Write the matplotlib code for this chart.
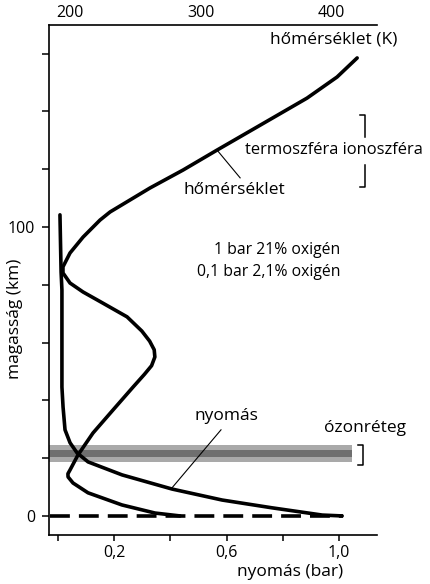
import matplotlib.pyplot as plt

plt.rcParams['font.family'] = ['Open Sans', 'DejaVu Sans']
plt.rcParams['font.size'] = 12.5

# ---- data ----
# temperature profile (K) vs. altitude (km)
temp_k = [284.3, 265.1, 239.8, 213.8, 202.3, 198.5, 198.4, 200, 206.1,
          217.6, 233, 248.3, 257, 262.5, 265, 264.5, 261, 255, 243.7,
          223, 210, 200, 194.6, 194.6, 200, 210, 223, 230.7, 261.3, 286.6,
          312.6, 343.3, 381.6, 404.6, 420]
temp_h = [0, 1.0, 3.8, 8.0, 11.4, 13.5, 14.6, 15.9, 21.1,
          28.7, 36.7, 44.6, 49.0, 52.0, 55.0, 57.5, 60.5, 64.0, 68.9,
          74.2, 77.5, 80.6, 84.1, 86.2, 91.0, 96.5, 102.4, 105.2, 113.5, 119.7,
          126.6, 134.6, 144.6, 151.9, 158.5]

# pressure profile (bar) vs. altitude (km)
pres_bar = [1.011, 0.940, 0.762, 0.584, 0.406, 0.228, 0.107, 0.068,
            0.043, 0.025, 0.018, 0.014, 0.014, 0.014, 0.011, 0.007]
pres_h = [0, 0.3, 2.8, 5.5, 9.3, 14.2, 18.7, 21.8,
          25.3, 29.8, 37.7, 44.6, 64.4, 78.2, 84.4, 104.2]

# ozone layer (km): outer band and darker core
ozone_outer = [18.7, 24.6]
ozone_core = [20.4, 22.8]
ozone_extent = [-0.032, 1.046]

# ground level (dashed)
ground_extent = [-0.028, 1.014]

pres_ticks = [0, 0.2, 0.4, 0.6, 0.8, 1.0]
pres_ticklabels = ['', '0,2', '', '0,6', '', '1,0']
h_ticks = [0, 20, 40, 60, 80, 100, 120, 140, 160]
h_ticklabels = ['0', '', '', '', '', '100', '', '', '']
temp_ticks = [200, 300, 400]

# ---- figure ----
fig = plt.figure(figsize=(4.3, 5.84), dpi=100)
ax = fig.add_axes([49 / 430, 1 - 535 / 584, 328 / 430, 510 / 584])
ax.set_xlim(-0.032, 1.135)
ax.set_ylim(-6.6, 169.9)

for s in ['top', 'right']:
    ax.spines[s].set_visible(False)
for s in ['left', 'bottom']:
    ax.spines[s].set_linewidth(1.2)

ax.set_xticks(pres_ticks)
ax.set_xticklabels(pres_ticklabels)
ax.set_yticks(h_ticks)
ax.set_yticklabels(h_ticklabels)
ax.tick_params(axis='x', length=4, width=1.1, pad=3, labelsize=11.5)
ax.tick_params(axis='y', length=5, width=1.1, pad=5, labelsize=11.5)

# ozone band
ax.fill_between(ozone_extent, ozone_outer[0], ozone_outer[1],
                color='#a9a9a9', lw=0, zorder=1)
ax.fill_between(ozone_extent, ozone_core[0], ozone_core[1],
                color='#6f6f6f', lw=0, zorder=1)

# ground line
ax.plot(ground_extent, [0, 0], color='black', lw=2.6,
        dashes=(5.5, 2.5), zorder=3)

# pressure curve
ax.plot(pres_bar, pres_h, color='black', lw=2.6,
        solid_joinstyle='round', solid_capstyle='round', zorder=4)

# temperature on the top axis
axT = ax.twiny()
axT.set_xlim(183.9, 435.2)
for s in ['bottom', 'left', 'right']:
    axT.spines[s].set_visible(False)
axT.spines['top'].set_linewidth(1.2)
axT.set_xticks(temp_ticks)
axT.tick_params(axis='x', length=0, pad=3, labelsize=11.5)
axT.plot(temp_k, temp_h, color='black', lw=2.6,
         solid_joinstyle='round', solid_capstyle='round', zorder=4)

# annotations (in pressure / altitude coordinates)
ax.text(0.598, 34.6, 'nyomás', ha='center', va='center')
ax.plot([0.580, 0.402], [29.8, 9.3], color='black', lw=0.8)

ax.text(0.626, 112.8, 'hőmérséklet', ha='center', va='center')
ax.plot([0.566, 0.648], [126.6, 117.0], color='black', lw=0.8)

ax.text(0.665, 126.6, 'termoszféra ionoszféra', ha='left', va='center',
        fontsize=11.9, clip_on=False)
ax.plot([1.075, 1.093, 1.093], [138.8, 138.8, 131.1], color='black',
        lw=1.1, clip_on=False)
ax.plot([1.093, 1.093, 1.075], [121.5, 113.8, 113.8], color='black',
        lw=1.1, clip_on=False)

ax.text(1.004, 92.0, '1 bar 21% oxigén', ha='right', va='center',
        fontsize=11.3)
ax.text(1.004, 84.4, '0,1 bar 2,1% oxigén', ha='right', va='center',
        fontsize=11.3)

ax.text(1.093, 30.4, 'ózonréteg', ha='center', va='center', clip_on=False)
ax.plot([1.068, 1.085, 1.085, 1.068], [24.6, 24.6, 17.6, 17.6],
        color='black', lw=1.1, clip_on=False)

# axis titles
fig.text(15 / 430, 1 - 319 / 584, 'magasság (km)', rotation=90,
         ha='center', va='center')
fig.text(397 / 430, 1 - 39 / 584, 'hőmérséklet (K)', ha='right', va='center')
fig.text(343 / 430, 1 - 572 / 584, 'nyomás (bar)', ha='right', va='center')

fig.savefig('out.png', dpi=100)
